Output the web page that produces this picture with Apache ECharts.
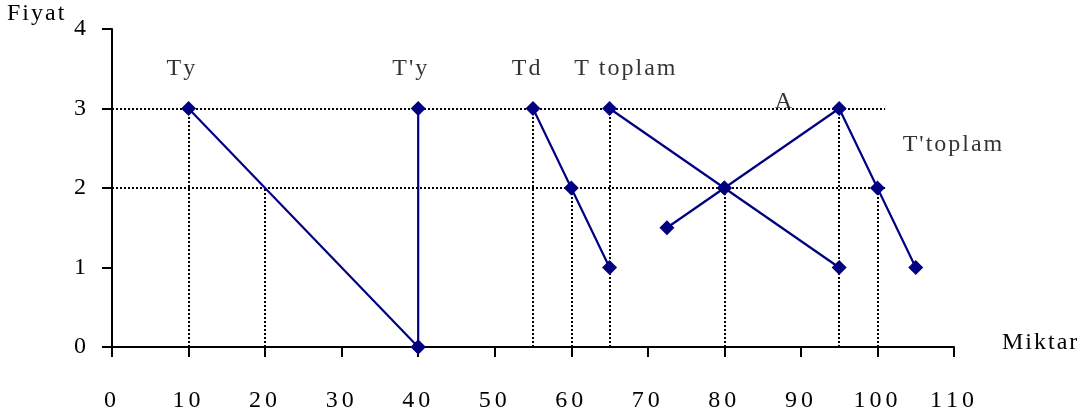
<!DOCTYPE html>
<html>
<head>
<meta charset="utf-8">
<script src="https://cdn.jsdelivr.net/npm/echarts@6/dist/echarts.min.js"></script>
<style>
html,body{margin:0;padding:0;background:#fff;}
#c{width:1087px;height:417px;}
</style>
</head>
<body>
<div id="c"></div>
<script>
// ---- data ----
var xTicks = [0, 10, 20, 30, 40, 50, 60, 70, 80, 90, 100, 110];
var yTicks = [0, 1, 2, 3, 4];
var seriesTy = [[10, 3], [40, 0]];
var seriesTpy = [[40, 3], [40, 0]];
var seriesTd = [[55, 3], [60, 2], [65, 1]];
var seriesTtoplam = [[65, 3], [80, 2], [95, 1]];
var seriesTptoplam = [[72.5, 1.5], [80, 2], [95, 3], [100, 2], [105, 1]];
// dotted guide segments [x1,y1,x2,y2]
var guides = [
  [0, 3, 101, 3], [0, 2, 101, 2],
  [10, 0, 10, 3], [20, 0, 20, 2], [55, 0, 55, 3], [60, 0, 60, 2],
  [65, 0, 65, 3], [80, 0, 80, 2], [95, 0, 95, 3], [100, 0, 100, 2]
];
var labelNames = ['Ty', "T'y", 'Td', 'T toplam', 'A', "T'toplam"];
var labelCoords = [[9, 3.5], [38.9, 3.5], [54.1, 3.5], [67, 3.5], [87.7, 3.08], [109.8, 2.55]];
var yAxisTitle = 'Fiyat';
var xAxisTitle = 'Miktar';

var FONT = 'Liberation Serif';
var FS = 24;
var NAVY = '#000080';
var chart = echarts.init(document.getElementById('c'));

// letter-spaced text through rich segments (each character stays real text)
function spaced(str, key) {
  return String(str).split('').map(function (ch) { return '{' + key + '|' + ch + '}'; }).join('');
}
var rich = {
  t: { fontFamily: FONT, fontSize: FS, color: '#000', padding: [0, 1, 0, 1] },
  d: { fontFamily: FONT, fontSize: FS, color: '#000', padding: [0, 4, 0, 0] }
};

function lineSeries(name, data) {
  return {
    name: name, type: 'line', data: data,
    symbol: 'diamond', symbolSize: 15,
    itemStyle: { color: NAVY },
    lineStyle: { color: NAVY, width: 2.2 },
    z: 5, animation: false
  };
}

var option = {
  animation: false,
  title: {
    text: spaced(yAxisTitle, 't'), left: 6, top: 2, padding: 0,
    textStyle: { fontFamily: FONT, fontSize: FS, fontWeight: 'normal', color: '#000', rich: rich }
  },
  grid: { left: 112, right: 133, top: 29, bottom: 70, containLabel: false, outerBoundsMode: 'none' },
  xAxis: {
    type: 'value', min: 0, max: 110, interval: 10,
    name: spaced(xAxisTitle, 't'), nameLocation: 'end', nameGap: 47,
    nameTextStyle: { fontFamily: FONT, fontSize: FS, color: '#000', padding: [0, 0, 8, 0], rich: rich },
    axisLine: { show: true, onZero: false, lineStyle: { color: '#000', width: 2 } },
    axisTick: { show: true, inside: false, length: 10, lineStyle: { color: '#000', width: 2 } },
    axisLabel: { margin: 42, fontFamily: FONT, fontSize: FS, color: '#000', rich: rich,
      formatter: function (v) { return xTicks.indexOf(v) >= 0 ? spaced(v, 'd') : ''; } },
    splitLine: { show: false }
  },
  yAxis: {
    type: 'value', min: 0, max: 4, interval: 1,
    axisLine: { show: true, lineStyle: { color: '#000', width: 2 } },
    axisTick: { show: true, inside: false, length: 10, lineStyle: { color: '#000', width: 2 } },
    axisLabel: { margin: 26, fontFamily: FONT, fontSize: FS, color: '#000',
      formatter: function (v) { return yTicks.indexOf(v) >= 0 ? String(v) : ''; } },
    splitLine: { show: false }
  },
  series: [
    {
      type: 'line', data: [], z: 2,
      markLine: {
        silent: true, symbol: ['none', 'none'],
        label: { show: false },
        lineStyle: { color: '#000', type: 'dotted', width: 2 },
        data: guides.map(function (g) {
          return [{ coord: [g[0], g[1]] }, { coord: [g[2], g[3]] }];
        }),
        animation: false
      }
    },
    lineSeries('Ty', seriesTy),
    lineSeries("T'y", seriesTpy),
    lineSeries('Td', seriesTd),
    lineSeries('T toplam', seriesTtoplam),
    lineSeries("T'toplam", seriesTptoplam),
    {
      type: 'scatter', symbolSize: 0, z: 10,
      data: labelCoords.map(function (c, i) { return { value: c, name: labelNames[i] }; }),
      label: {
        show: true, position: 'inside',
        formatter: function (p) { return spaced(p.name, 't'); },
        fontFamily: FONT, fontSize: FS, color: '#000', textBorderWidth: 0, rich: rich
      },
      emphasis: { disabled: true },
      clip: false
    }
  ]
};
chart.setOption(option);
</script>
</body>
</html>
